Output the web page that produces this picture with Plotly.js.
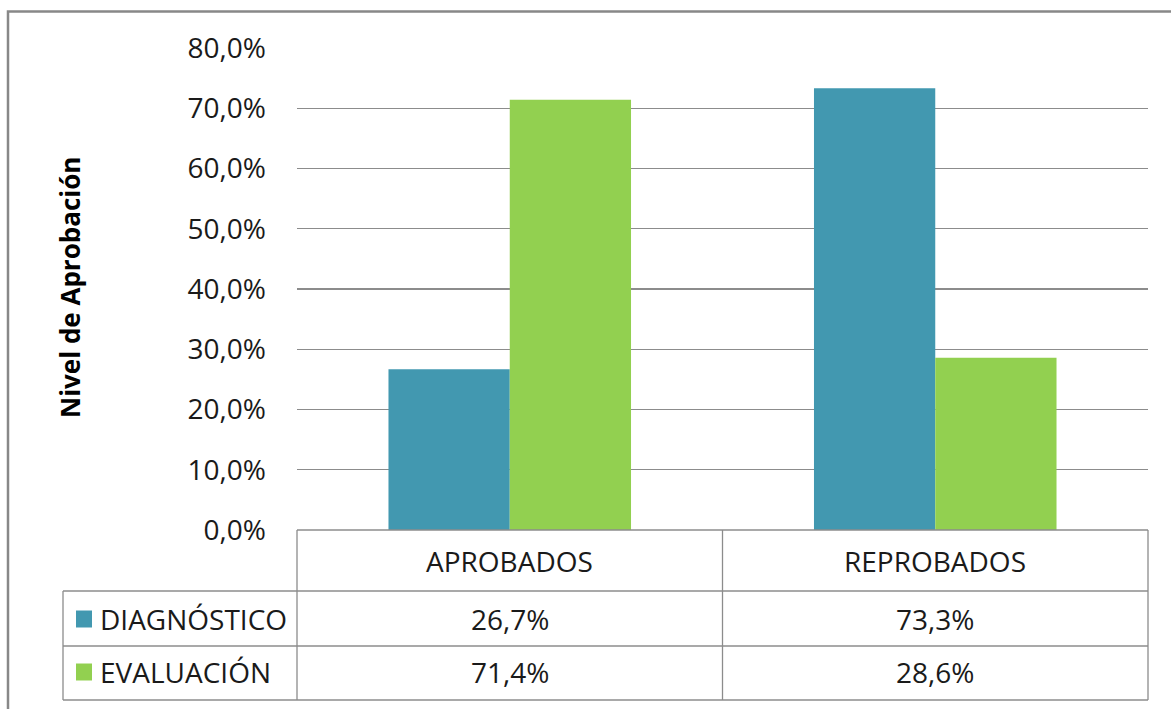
<!DOCTYPE html>
<html>
<head>
<meta charset="utf-8">
<script src="https://cdn.plot.ly/plotly-3.0.1.min.js"></script>
<style>html,body{margin:0;padding:0;background:#fff;}#chart{width:1171px;height:709px;}</style>
</head>
<body>
<div id="chart"></div>
<script>
const categories = ['APROBADOS', 'REPROBADOS'];
const seriesNames = ['DIAGNÓSTICO', 'EVALUACIÓN'];
const diagnostico = [26.7, 73.3];
const evaluacion = [71.4, 28.6];
const tickVals = [0, 10, 20, 30, 40, 50, 60, 70, 80];
const yTitle = 'Nivel de Aprobación';

const colors = ['#4298B0', '#92D050'];
const FONT = '"Open Sans", "Noto Sans", sans-serif';
const FS = 28;
const W = 1171, H = 709;
const L = 297, R = 1148, T = 48, B = 530;
const pw = R - L, ph = B - T;
const px = x => (x - L) / pw;
const py = y => (B - y) / ph;
const fmt = v => v.toFixed(1).replace('.', ',') + '%';
const gridC = '#8C8C8C';
const txtC = '#1a1a1a';

const traces = [diagnostico, evaluacion].map((vals, i) => ({
  type: 'bar', x: categories, y: vals, name: seriesNames[i],
  marker: {color: colors[i], line: {width: 0}}, hoverinfo: 'none'
}));

const shapes = [];
const line = (x0, y0, x1, y1, xref) => shapes.push({type: 'line', xref: xref || 'paper', yref: 'paper', x0, y0, x1, y1, line: {color: gridC, width: 1.3}});
// outer chart border
shapes.push({type: 'rect', xref: 'paper', yref: 'paper', x0: px(8), x1: px(1180), y0: py(11.5), y1: py(720), line: {color: '#888888', width: 2.5}});
// table lines
const rows = [530, 591, 646, 700];
line(0, py(530), 1, py(530));
rows.slice(1).forEach(y => line(px(63), py(y), 1, py(y)));
line(0, py(530), 0, py(700));
line(1, py(530), 1, py(700));
line(px(63), py(591), px(63), py(700));
line(0.5, py(530), 0.5, py(700), 'x');

const annotations = [];
const rowCenters = [561, 619, 672];
const ann = (o) => annotations.push(Object.assign({showarrow: false, yanchor: 'middle', font: {family: FONT, size: FS, color: txtC}}, o));
categories.forEach((c, i) => {
  ann({xref: 'x', yref: 'paper', x: c, y: py(rowCenters[0]), text: c});
  ann({xref: 'x', yref: 'paper', x: c, y: py(rowCenters[1]), text: fmt(diagnostico[i])});
  ann({xref: 'x', yref: 'paper', x: c, y: py(rowCenters[2]), text: fmt(evaluacion[i])});
});
seriesNames.forEach((n, i) => {
  const cy = rowCenters[i + 1];
  shapes.push({type: 'rect', xref: 'paper', yref: 'paper', x0: px(76), x1: px(92), y0: py(cy - 8.5), y1: py(cy + 8.5), fillcolor: colors[i], line: {width: 0}});
  ann({xref: 'paper', yref: 'paper', x: px(98), y: py(cy), xanchor: 'left', text: n});
});
ann({xref: 'paper', yref: 'paper', x: px(70), y: py(288), xanchor: 'center', text: '<b>' + yTitle + '</b>', textangle: -90, font: {family: FONT, size: 26, color: '#000'}});

const layout = {
  width: W, height: H,
  margin: {l: L, r: W - R, t: T, b: H - B, pad: 0},
  paper_bgcolor: '#fff', plot_bgcolor: '#fff',
  separators: ',.',
  showlegend: false,
  barmode: 'group', bargap: 0.43, bargroupgap: 0,
  xaxis: {showticklabels: false, showgrid: false, zeroline: false, showline: false, ticks: '', fixedrange: true},
  yaxis: {range: [0, 80], tickvals: tickVals, ticktext: tickVals.map(fmt), showgrid: true, gridcolor: gridC, gridwidth: 1.3,
          zeroline: false, showline: false, ticks: '', ticklabelstandoff: 30,
          tickfont: {family: FONT, size: FS, color: txtC}, fixedrange: true},
  shapes, annotations
};
Plotly.newPlot('chart', traces, layout, {displayModeBar: false, staticPlot: true});
</script>
</body>
</html>
